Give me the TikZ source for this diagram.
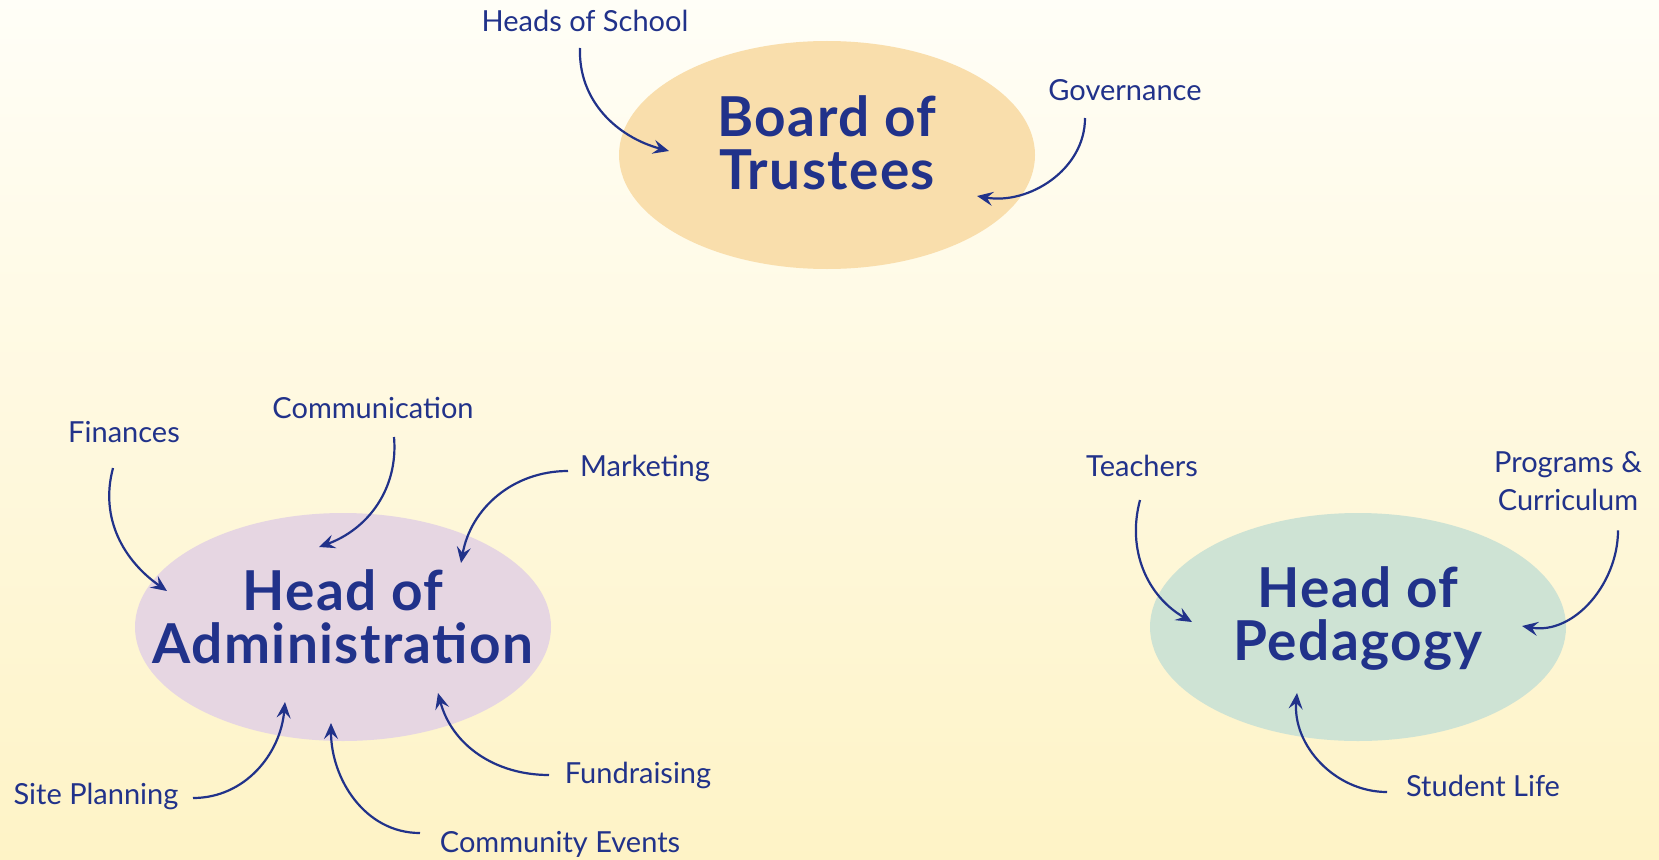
\documentclass[tikz,border=0pt]{standalone}
\usepackage{fontspec}
\setmainfont{Lato}
\usetikzlibrary{shapes.geometric,arrows.meta}
\definecolor{navy}{RGB}{33,50,138}
\definecolor{bgtop}{RGB}{255,254,247}
\definecolor{bgbot}{RGB}{254,243,198}
\definecolor{boardfill}{RGB}{249,222,172}
\definecolor{adminfill}{RGB}{230,214,226}
\definecolor{pedfill}{RGB}{206,227,212}
\tikzset{
	blob/.style={ellipse, draw=none, minimum width=416, minimum height=228, inner sep=0},
	title/.style={text=navy, align=center, inner sep=0, font=\fontsize{55}{53}\selectfont\bfseries\addfontfeatures{LetterSpace=2.5}},
	lbl/.style={text=navy, anchor=base, inner sep=0, font=\fontsize{29}{38}\selectfont},
	flow/.style={draw=navy, line width=2.2, -{Stealth[length=16,width=14,inset=6]}}
}
\begin{document}
\begin{tikzpicture}[x=1pt,y=1pt]
					\shade[top color=bgtop, bottom color=bgbot] (0,0) rectangle (1659,-859);
					\useasboundingbox (0,0) rectangle (1659,-859);
					\node[blob, fill=boardfill] (board) at (827,-155) {};
					\node[blob, fill=adminfill] (admin) at (343,-627) {};
					\node[blob, fill=pedfill] (ped) at (1358,-627) {};
					\node[title] (boardtxt) at ([yshift=12]board.center) {Board of\\Trustees};
					\node[title] (admintxt) at ([yshift=10]admin.center) {Head of\\Administration};
					\node[title] (pedtxt) at ([yshift=8]ped.center) {Head of\\Pedagogy};
					\node[lbl] (hos) at (585,-32) {Heads of School};
					\node[lbl] (gov) at (1125,-100) {Governance};
					\node[lbl] (fin) at (124,-442) {Finances};
					\node[lbl] (com) at (373,-418) {Communication};
					\node[lbl] (mkt) at (645,-476) {Marketing};
					\node[lbl] (site) at (96,-804) {Site Planning};
					\node[lbl] (ce) at (560,-852) {Community Events};
					\node[lbl] (fund) at (638,-783) {Fundraising};
					\node[lbl] (tea) at (1142,-476) {Teachers};
					\node[lbl, align=center] (prog) at (1568,-510) {Programs \&\\Curriculum};
					\node[lbl] (sl) at (1483,-796) {Student Life};
					\coordinate (b1) at (669,-151);
					\coordinate (b2) at (977,-196);
					\coordinate (a1) at (167,-591);
					\coordinate (a2) at (319,-547);
					\coordinate (a3) at (461,-563);
					\coordinate (a4) at (285,-702);
					\coordinate (a5) at (331,-723);
					\coordinate (a6) at (438,-693);
					\coordinate (p1) at (1192,-622);
					\coordinate (p2) at (1522,-626);
					\coordinate (p3) at (1297,-693);
					\draw[flow] ([shift={(-5,-16)}]hos.base) to[out=-92, in=165] (b1);
					\draw[flow] ([shift={(-40,-18)}]gov.base) to[out=-90, in=-10] (b2);
					\draw[flow] ([shift={(-11,-26)}]fin.base) to[out=-105, in=145] (a1);
					\draw[flow] ([shift={(21,-19)}]com.base) to[out=-85, in=20] (a2);
					\draw[flow] ([shift={(-77,5)}]mkt.base) to[out=180, in=80] (a3);
					\draw[flow] ([shift={(97,6)}]site.base) to[out=0, in=-95] (a4);
					\draw[flow] ([shift={(-140,19)}]ce.base) to[out=180, in=-90] (a5);
					\draw[flow] ([shift={(-89,8)}]fund.base) to[out=180, in=-75] (a6);
					\draw[flow] ([shift={(-2,-24)}]tea.base) to[out=-105, in=150] (p1);
					\draw[flow] ([shift={(50,-20)}]prog.south) to[out=-90, in=-10] (p2);
					\draw[flow] ([shift={(-96,4)}]sl.base) to[out=180, in=-95] (p3);
				\end{tikzpicture}
\end{document}
